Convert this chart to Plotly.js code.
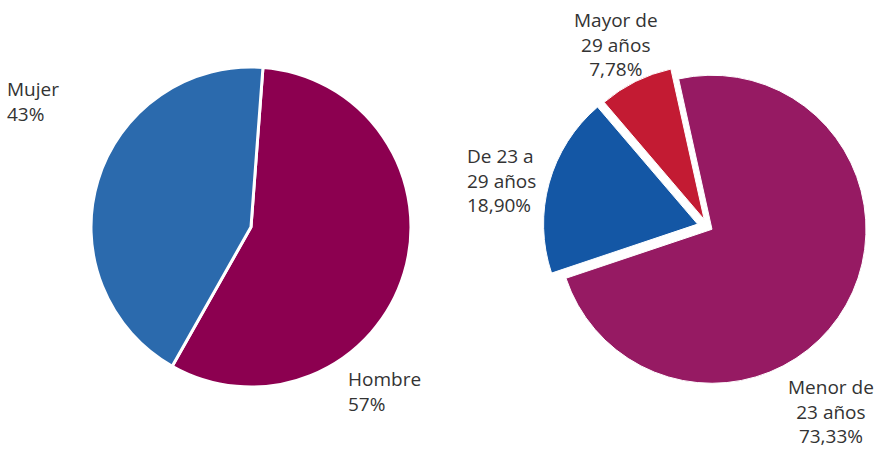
<!DOCTYPE html>
<html>
<head>
<meta charset="utf-8">
<script src="https://cdn.plot.ly/plotly-3.0.1.min.js"></script>
<style>
  html, body { margin: 0; padding: 0; background: #fff; }
  #chart { width: 880px; height: 451px; }
</style>
</head>
<body>
<div id="chart"></div>
<script>
// sexo
var sexoLabels = ['Hombre', 'Mujer'];
var sexoValues = [57, 43];
var sexoColors = ['#8c0050', '#2b6aad'];

// edad
var edadLabels = ['Menor de 23 años', 'De 23 a 29 años', 'Mayor de 29 años'];
var edadLines = ['Menor de<br>23 años', 'De 23 a<br>29 años', 'Mayor de<br>29 años'];
var edadValues = [73.33, 18.90, 7.78];
var edadColors = ['#961a63', '#1457a5', '#c31b33'];
var edadPull = [0.03, 0.07, 0.055];

function pct(v, d) {
  return v.toFixed(d).replace('.', ',') + '%';
}

var textFont = { family: 'Open Sans, sans-serif', size: 19, color: '#333333' };

var data = [{
  type: 'pie',
  labels: sexoLabels,
  values: sexoValues,
  sort: false,
  direction: 'clockwise',
  rotation: 4.3,
  textinfo: 'none',
  hoverinfo: 'label+percent',
  marker: { colors: sexoColors, line: { color: '#ffffff', width: 3 } },
  domain: { x: [0.1034, 0.467], y: [0.1419, 0.8514] }
}, {
  type: 'pie',
  labels: edadLabels,
  values: edadValues,
  sort: false,
  direction: 'clockwise',
  rotation: -12.5,
  pull: edadPull,
  textinfo: 'none',
  hoverinfo: 'label+percent',
  marker: { colors: edadColors, line: { color: '#ffffff', width: 1 } },
  domain: { x: [0.6172, 0.9918], y: [0.1313, 0.8621] }
}];

// etiquetas fuera de los sectores
var ann = [
  { text: sexoLabels[1] + '<br>' + sexoValues[1] + '%', x: 0.006, y: 0.835, xanchor: 'left', yanchor: 'top', align: 'left' },
  { text: sexoLabels[0] + '<br>' + sexoValues[0] + '%', x: 0.3935, y: 0.192, xanchor: 'left', yanchor: 'top', align: 'left' },
  { text: edadLines[2] + '<br>' + pct(edadValues[2], 2), x: 0.700, y: 0.99, xanchor: 'center', yanchor: 'top', align: 'center' },
  { text: edadLines[1] + '<br>' + pct(edadValues[1], 2), x: 0.528, y: 0.688, xanchor: 'left', yanchor: 'top', align: 'left' },
  { text: edadLines[0] + '<br>' + pct(edadValues[0], 2), x: 0.944, y: 0, xanchor: 'center', yanchor: 'bottom', align: 'center' }
].map(function(a) {
  a.xref = 'paper';
  a.yref = 'paper';
  a.showarrow = false;
  a.font = textFont;
  return a;
});

var layout = {
  width: 880,
  height: 451,
  margin: { l: 0, r: 0, t: 0, b: 0 },
  showlegend: false,
  paper_bgcolor: '#ffffff',
  annotations: ann
};

Plotly.newPlot('chart', data, layout, { displayModeBar: false, staticPlot: true });
</script>
</body>
</html>
